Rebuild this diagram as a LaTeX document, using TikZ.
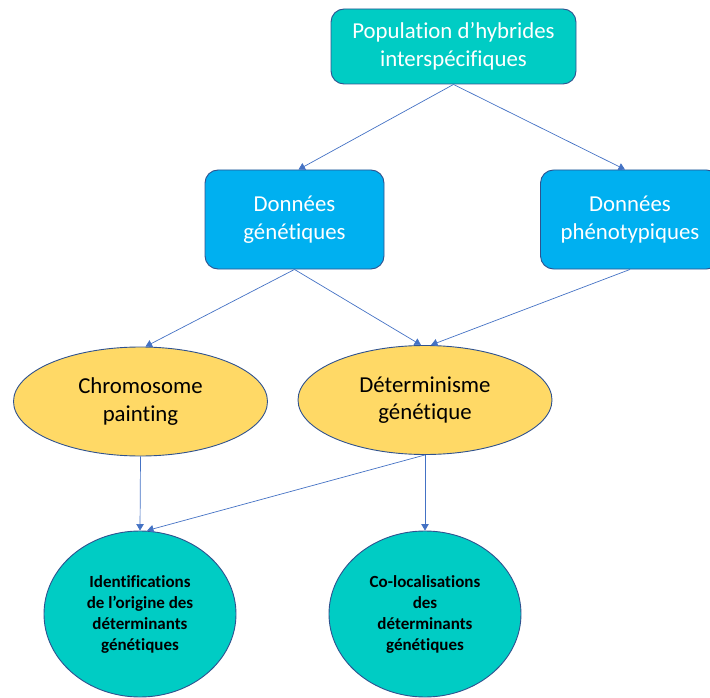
\documentclass[tikz,border=0pt]{standalone}
\usepackage{fontspec}
\setmainfont{Carlito}[Ligatures=NoCommon]
\usetikzlibrary{shapes.geometric,arrows.meta}

\definecolor{popteal}{HTML}{00CCC4}
\definecolor{datablue}{HTML}{00B0F0}
\definecolor{ovalgold}{HTML}{FFD966}
\definecolor{edgeblue}{HTML}{2F528F}
\definecolor{arrowblue}{HTML}{4472C4}

\newcommand{\boxtxt}{\fontsize{22.8}{27.5}\selectfont}
\newcommand{\disctxt}{\fontsize{17}{21}\selectfont\bfseries}

\tikzset{
  topbox/.style={draw=edgeblue, fill=popteal, rounded corners=13pt, line width=0.9pt,
    minimum width=245pt, minimum height=75pt, text=white, align=center, font=\boxtxt},
  databox/.style={draw=edgeblue, fill=datablue, rounded corners=13pt, line width=0.9pt,
    minimum width=179pt, minimum height=99pt, text=white, align=center, font=\boxtxt},
  oval/.style={ellipse, draw=edgeblue, fill=ovalgold, line width=0.9pt, inner sep=0pt,
    minimum width=254pt, minimum height=109pt, align=center, font=\boxtxt},
  disc/.style={ellipse, draw=edgeblue, fill=popteal, line width=0.9pt, inner sep=0pt,
    minimum width=192pt, minimum height=166pt, align=center, font=\disctxt},
  arr/.style={draw=arrowblue, line width=0.7pt, -{Triangle[width=7.5pt,length=6.5pt]}}
}

\begin{document}
\begin{tikzpicture}[x=1pt,y=-1pt]
\useasboundingbox (0,0) rectangle (710,698);

% boxes
\node[topbox] (pop) at (453.5,46.5) {Population d’hybrides\\interspécifiques};
\node[databox] (gen) at (294.5,219.5) {Données\\génétiques};
\node[databox] (phen) at (630,219.5) {Données\\phénotypiques};

% ovals
\node[oval] (chrom) at (140.5,401.5) {Chromosome\\painting};
\node[oval] (det) at (425,400) {Déterminisme\\génétique};

% results
\node[disc] (ident) at (140,614) {Identifications\\de l’origine des\\déterminants\\génétiques};
\node[disc] (coloc) at (425,614) {Co-localisations\\des\\déterminants\\génétiques};

% arrows
\draw[arr] (pop.south) -- ([xshift=4]gen.north);
\draw[arr] (pop.south) -- ([xshift=-5]phen.north);
\draw[arr] (gen.south) -- ([xshift=5]chrom.north);
\draw[arr] (gen.south) -- ([xshift=-4]det.north);
\draw[arr] (phen.south) -- ([xshift=6]det.north);
\draw[arr] (chrom.south) -- (ident.north);
\draw[arr] (det.south) -- ([xshift=7]ident.north);
\draw[arr] (det.south) -- (coloc.north);

\end{tikzpicture}
\end{document}
